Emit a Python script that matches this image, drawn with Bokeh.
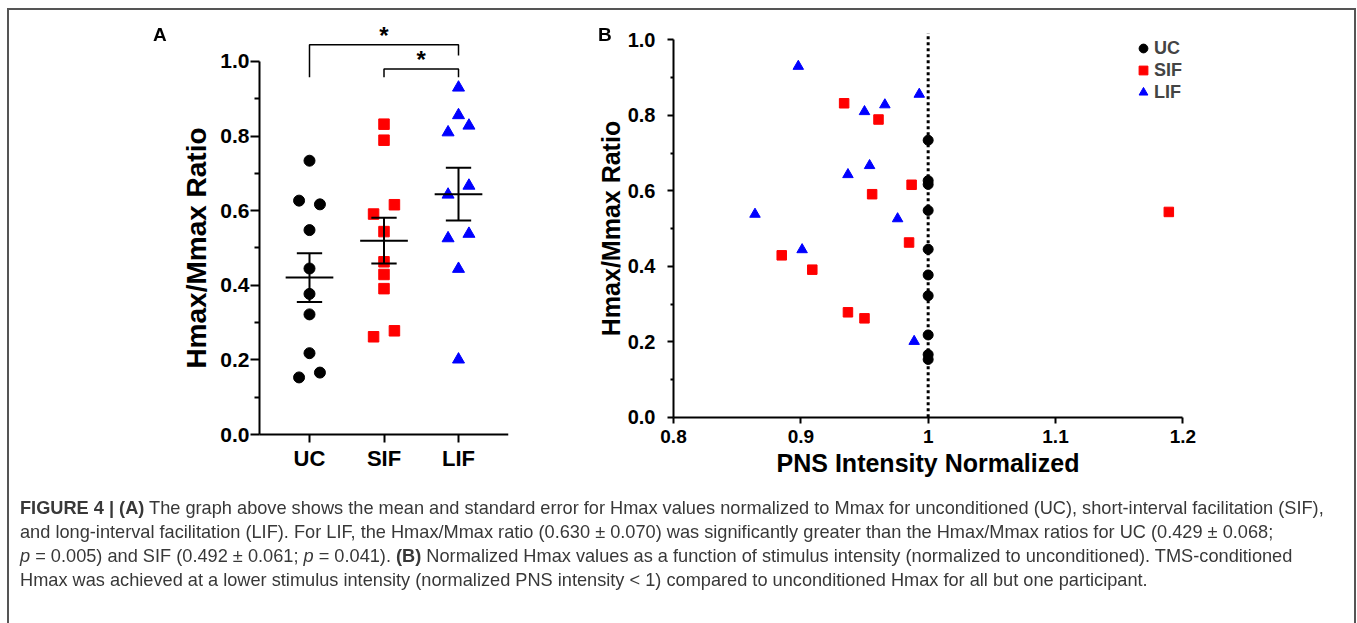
import numpy as np
from bokeh.plotting import figure
from bokeh.models import FixedTicker, Legend, LegendItem, Div
from bokeh.layouts import row, column
from bokeh.embed import file_html
from bokeh.resources import INLINE

# ---------------- data ----------------
groups = ["UC", "SIF", "LIF"]
group_colors = ["#000000", "#FF0000", "#0000FF"]

uc_ratio = [0.734, 0.627, 0.617, 0.548, 0.445, 0.377, 0.322, 0.218, 0.166, 0.153]
sif_ratio = [0.832, 0.789, 0.616, 0.591, 0.544, 0.463, 0.429, 0.391, 0.278, 0.262]
lif_ratio = [0.930, 0.856, 0.828, 0.810, 0.667, 0.643, 0.538, 0.526, 0.444, 0.201]

# swarm column of each point (-1 left, 0 centre, 1 right)
uc_swarm = [0, -1, 1, 0, 0, 0, 0, 0, 1, -1]
sif_swarm = [0, 0, 1, -1, 0, 0, 0, 0, 1, -1]
lif_swarm = [0, 0, 1, -1, 1, -1, 1, -1, 0, 0]

# panel B: normalized PNS intensity for each participant (same order as above)
uc_pns = [1.0, 1.0, 1.0, 1.0, 1.0, 1.0, 1.0, 1.0, 1.0, 1.0]
sif_pns = [0.934, 0.961, 0.987, 0.956, 1.189, 0.985, 0.885, 0.909, 0.937, 0.950]
lif_pns = [0.898, 0.993, 0.966, 0.950, 0.954, 0.937, 0.864, 0.976, 0.901, 0.989]

# significance brackets (group index pairs)
bracket_pairs = [(0, 2), (1, 2)]
bracket_top = [1.045, 0.980]
bracket_left_end = [0.958, 0.958]
bracket_right_end = [1.016, 0.958]
bracket_mark = ["*", "*"]

y_ticks = [0.0, 0.2, 0.4, 0.6, 0.8, 1.0]
y_tick_labels = ["0.0", "0.2", "0.4", "0.6", "0.8", "1.0"]
y_minor = [0.1, 0.3, 0.5, 0.7, 0.9]
pns_ticks = [0.8, 0.9, 1.0, 1.1, 1.2]
pns_tick_labels = ["0.8", "0.9", "1", "1.1", "1.2"]
ref_intensity = 1.0
panel_letters = ["A", "B"]

FONT = "Liberation Sans"
SWARM_STEP = 0.14
FIG_H = 549


def style_axis(ax, tick_out, minor_out, lab_size, lab_standoff, title_size, title_standoff):
    ax.axis_line_width = 2
    ax.axis_line_color = "black"
    ax.major_tick_line_width = 2
    ax.minor_tick_line_width = 2
    ax.major_tick_in = 0
    ax.major_tick_out = tick_out
    ax.minor_tick_in = 0
    ax.minor_tick_out = minor_out
    ax.major_label_text_font = FONT
    ax.major_label_text_font_style = "bold"
    ax.major_label_text_font_size = lab_size
    ax.major_label_text_color = "black"
    ax.major_label_standoff = lab_standoff
    ax.axis_label_text_font = FONT
    ax.axis_label_text_font_style = "bold"
    ax.axis_label_text_font_size = title_size
    ax.axis_label_text_color = "black"
    ax.axis_label_standoff = title_standoff


# ---------------- panel A ----------------
A_AXIS_X = (-0.671, 2.671)
XA = (-1.7314, 2.671)
YA = (-0.1394, 1.1099)
pa = figure(width=503, height=FIG_H, x_range=XA, y_range=YA,
            output_backend="svg", toolbar_location=None,
            min_border_left=173, min_border_right=2, min_border_top=12, min_border_bottom=71)
pa.outline_line_color = None
pa.border_fill_alpha = 0
pa.background_fill_alpha = 0
pa.xgrid.visible = False
pa.ygrid.visible = False

ratios = [uc_ratio, sif_ratio, lif_ratio]
swarms = [uc_swarm, sif_swarm, lif_swarm]
markers = ["circle", "square", "triangle"]
sizes_a = [11, 10.5, 12]
for gi, (vals, sw, mk, col, sz) in enumerate(zip(ratios, swarms, markers, group_colors, sizes_a)):
    xs = [gi + s * SWARM_STEP for s in sw]
    pa.scatter(xs, vals, marker=mk, size=sz, fill_color=col, line_color=col)

# mean and SEM
means = [float(np.mean(v)) for v in ratios]
sems = [float(np.std(v, ddof=1) / np.sqrt(len(v))) for v in ratios]
gx = np.arange(len(groups))
pa.segment(x0=gx - 0.32, x1=gx + 0.32, y0=means, y1=means, line_color="black", line_width=2)
pa.segment(x0=gx, x1=gx, y0=np.array(means) - sems, y1=np.array(means) + sems, line_color="black", line_width=2)
for sgn in (-1, 1):
    yy = np.array(means) + sgn * np.array(sems)
    pa.segment(x0=gx - 0.17, x1=gx + 0.17, y0=yy, y1=yy, line_color="black", line_width=2)

# significance brackets
bx, by = [], []
for (a, b), top, le, re in zip(bracket_pairs, bracket_top, bracket_left_end, bracket_right_end):
    bx.append([a, a, b, b])
    by.append([le, top, top, re])
pa.multi_line(bx, by, line_color="black", line_width=1.5)
pa.text(x=[(a + b) / 2 for a, b in bracket_pairs], y=[t + 0.0245 for t in bracket_top], text=bracket_mark,
        text_align="center", text_baseline="alphabetic", text_font_size="24px",
        text_font_style="bold", text_color="black", text_font={"value": FONT})

ya = pa.yaxis[0]
ya.ticker = FixedTicker(ticks=y_ticks, minor_ticks=y_minor)
ya.major_label_overrides = {t: l for t, l in zip(y_ticks, y_tick_labels)}
ya.bounds = (0, 1)
ya.fixed_location = A_AXIS_X[0]
ya.axis_label = "Hmax/Mmax Ratio"
style_axis(ya, 9, 5, "21px", 1, "28px", 5)

xa = pa.xaxis[0]
xa.ticker = FixedTicker(ticks=list(range(len(groups))))
xa.major_label_overrides = {i: g for i, g in enumerate(groups)}
xa.bounds = A_AXIS_X
xa.fixed_location = 0
style_axis(xa, 8, 0, "22px", 3, "22px", 0)

# ---------------- panel B ----------------
XB = (0.7411, 1.25)
YB = (-0.1837, 1.0514)
pb = figure(width=845, height=FIG_H, x_range=XB, y_range=YB,
            output_backend="svg", toolbar_location=None,
            min_border_left=88, min_border_right=109, min_border_top=12, min_border_bottom=71)
pb.outline_line_color = None
pb.border_fill_alpha = 0
pb.background_fill_alpha = 0
pb.xgrid.visible = False
pb.ygrid.visible = False

pb.segment(x0=[ref_intensity], x1=[ref_intensity], y0=[0], y1=[1.018], line_color="black",
           line_width=3, line_dash="3 3")

pns = [uc_pns, sif_pns, lif_pns]
sizes_b = [10, 9.5, 10.5]
rends = []
for vals, xv, mk, col, sz in zip(ratios, pns, markers, group_colors, sizes_b):
    r = pb.scatter(xv, vals, marker=mk, size=sz, fill_color=col, line_color=col)
    rends.append(r)

yb = pb.yaxis[0]
yb.ticker = FixedTicker(ticks=y_ticks, minor_ticks=y_minor)
yb.major_label_overrides = {t: l for t, l in zip(y_ticks, y_tick_labels)}
yb.bounds = (0, 1)
yb.fixed_location = pns_ticks[0]
yb.axis_label = "Hmax/Mmax Ratio"
style_axis(yb, 6, 3, "20px", 12, "25px", 0)

xb = pb.xaxis[0]
xb.ticker = FixedTicker(ticks=pns_ticks)
xb.major_label_overrides = {t: l for t, l in zip(pns_ticks, pns_tick_labels)}
xb.bounds = (pns_ticks[0], pns_ticks[-1])
xb.fixed_location = 0
xb.axis_label = "PNS Intensity Normalized"
style_axis(xb, 6, 0, "19px", 7, "25px", 2)

legend = Legend(items=[LegendItem(label=g, renderers=[r]) for g, r in zip(groups, rends)],
                location=(534, 383), padding=0, margin=0, spacing=0,
                glyph_width=22, glyph_height=22, label_standoff=0, label_height=22,
                border_line_color=None, background_fill_alpha=0,
                label_text_font=FONT, label_text_font_style="bold", label_text_font_size="18px")
pb.add_layout(legend)

# ---------------- caption, frame box and panel letters ----------------
caption_lines = [
    "<b>FIGURE 4 | (A)</b> The graph above shows the mean and standard error for Hmax values normalized to Mmax for unconditioned (UC), short-interval facilitation (SIF),",
    "and long-interval facilitation (LIF). For LIF, the Hmax/Mmax ratio (0.630 &plusmn; 0.070) was significantly greater than the Hmax/Mmax ratios for UC (0.429 &plusmn; 0.068;",
    "<i>p</i> = 0.005) and SIF (0.492 &plusmn; 0.061; <i>p</i> = 0.041). <b>(B)</b> Normalized Hmax values as a function of stimulus intensity (normalized to unconditioned). TMS-conditioned",
    "Hmax was achieved at a lower stimulus intensity (normalized PNS intensity &lt; 1) compared to unconditioned Hmax for all but one participant.",
]
letter_css = "position:fixed;top:25px;font-family:'Liberation Sans';font-weight:bold;font-size:19px;line-height:19px;color:#000;"
box_css = ("position:fixed;left:7px;top:8px;width:1349px;height:700px;border:2px solid #555;"
           "border-bottom:none;pointer-events:none;")
caption_html = (
    f"<div style=\"{box_css}\"></div>"
    f"<div style=\"{letter_css}left:153px;\">{panel_letters[0]}</div>"
    f"<div style=\"{letter_css}left:598px;\">{panel_letters[1]}</div>"
    "<div style=\"position:relative;top:-68px;font-family:'Liberation Sans Narrow','Liberation Sans',sans-serif;"
    "font-size:18.2px;line-height:24px;color:#383838;white-space:nowrap;"
    "padding-left:8px;padding-top:2px;\">" + "<br>".join(caption_lines) + "</div>"
)
cap = Div(text=caption_html, width=1346, height=50)

layout = column(row(pa, pb), cap, styles={"margin-left": "7px", "margin-top": "8px"})

open("out.html", "w").write(file_html(layout, INLINE))
